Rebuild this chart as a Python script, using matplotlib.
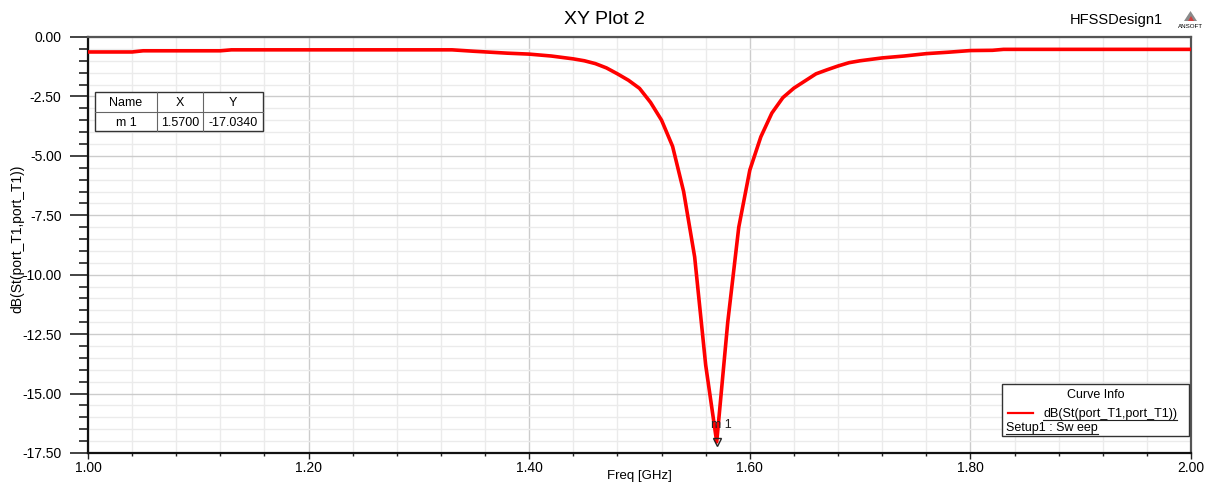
import numpy as np
import matplotlib
matplotlib.use('Agg')
import matplotlib.pyplot as plt
from matplotlib.ticker import MultipleLocator, FormatStrFormatter
from matplotlib.lines import Line2D
from matplotlib.patches import Rectangle, Polygon

plt.rcParams['font.family'] = ['Liberation Sans', 'DejaVu Sans']

# sweep data (Freq in GHz, S11 in dB)
freq = [1.00, 1.04, 1.05, 1.12, 1.13, 1.33, 1.35, 1.38, 1.40, 1.42, 1.44, 1.45,
        1.46, 1.47, 1.48, 1.49, 1.50, 1.51, 1.52, 1.53, 1.54, 1.55, 1.56, 1.57,
        1.58, 1.59, 1.60, 1.61, 1.62, 1.63, 1.64, 1.65, 1.66, 1.67, 1.68, 1.69,
        1.70, 1.72, 1.74, 1.76, 1.78, 1.80, 1.82, 1.83, 2.00]
s11_db = [-0.63, -0.63, -0.58, -0.58, -0.54, -0.54, -0.60, -0.68, -0.72, -0.80,
          -0.92, -1.00, -1.12, -1.30, -1.55, -1.82, -2.16, -2.75, -3.50, -4.60,
          -6.50, -9.25, -13.8, -17.034, -12.0, -8.0, -5.6, -4.2, -3.2, -2.55,
          -2.15, -1.85, -1.55, -1.38, -1.22, -1.08, -1.00, -0.88, -0.80, -0.70,
          -0.64, -0.57, -0.56, -0.52, -0.52]
marker_name = 'm 1'
marker_x = 1.57
marker_y = -17.034

W, H = 1208, 484
fig = plt.figure(figsize=(W / 100, H / 100), dpi=100)
ax = fig.add_axes([88 / W, 1 - 453 / H, (1191 - 88) / W, (453 - 37) / H])


def px(x, y):
    return x / W, 1 - y / H


ax.plot(freq, s11_db, color='#ff0000', lw=2.6, solid_joinstyle='round', zorder=3)

ax.set_xlim(1.0, 2.0)
ax.set_ylim(-17.5, 0.0)
ax.xaxis.set_major_locator(MultipleLocator(0.2))
ax.xaxis.set_minor_locator(MultipleLocator(0.04))
ax.yaxis.set_major_locator(MultipleLocator(2.5))
ax.yaxis.set_minor_locator(MultipleLocator(0.5))
ax.xaxis.set_major_formatter(FormatStrFormatter('%.2f'))
ax.yaxis.set_major_formatter(FormatStrFormatter('%.2f'))

ax.grid(which='major', color='#cccccc', lw=1.0, zorder=0)
ax.grid(which='minor', color='#ebebeb', lw=1.0, zorder=0)
ax.set_axisbelow(True)

ax.tick_params(axis='y', which='major', direction='out', length=13, width=1.2,
               labelsize=10, pad=6, color='#222222')
ax.tick_params(axis='y', which='minor', direction='out', length=6.5, width=1.2,
               color='#222222')
ax.tick_params(axis='x', which='major', direction='out', length=4, width=1.0,
               labelsize=10, pad=2, color='#222222')
ax.tick_params(axis='x', which='minor', direction='out', length=2.5, width=1.0,
               color='#222222')

for side in ['left', 'bottom']:
    ax.spines[side].set_color('#111111')
    ax.spines[side].set_linewidth(1.6)
for side in ['top', 'right']:
    ax.spines[side].set_color('#555555')
    ax.spines[side].set_linewidth(1.6)

ax.set_xlabel('Freq [GHz]', fontsize=9.5, va='center')
ax.xaxis.set_label_coords(0.5, (453 - 476) / (453 - 37))
ax.set_ylabel('dB(St(port_T1,port_T1))', fontsize=10)
ax.yaxis.set_label_coords((24 - 88) / (1191 - 88), (453 - 239) / (453 - 37))

# title and design name
fig.text(*px(604, 20), 'XY Plot 2', fontsize=14, ha='center', va='center')
fig.text(*px(1163, 20), 'HFSSDesign1', fontsize=10.5, ha='right', va='center')
# small ANSOFT logo
tri = Polygon([px(1184, 21), px(1197, 21), px(1190.5, 11)], closed=True,
              transform=fig.transFigure, facecolor='#8a8a8a', edgecolor='none')
fig.patches.append(tri)
tri2 = Polygon([px(1188, 21), px(1194, 21), px(1191, 16)], closed=True,
               transform=fig.transFigure, facecolor='#d04040', edgecolor='none')
fig.patches.append(tri2)
fig.text(*px(1191, 26), 'ANSOFT', fontsize=4.5, ha='center', va='center')

# marker m1
ax.plot([marker_x], [marker_y], marker='v', ms=6, mfc='none', mec='#222222',
        mew=1.0, linestyle='none', zorder=4)
ax.annotate(marker_name, xy=(marker_x, marker_y), xytext=(-4, 8),
            textcoords='offset points', fontsize=9, ha='left', va='bottom',
            color='#222222', zorder=5)

# marker table
tx0, tx1, tx2, tx3 = 95, 157, 203, 263
ty0, ty1, ty2 = 92, 112, 131
fig.patches.append(Rectangle(px(tx0, ty2), (tx3 - tx0) / W, (ty2 - ty0) / H,
                             transform=fig.transFigure, facecolor='white',
                             edgecolor='#333333', lw=1.0, zorder=10))
for xx in (tx1, tx2):
    fig.lines.append(Line2D([xx / W, xx / W], [1 - ty0 / H, 1 - ty2 / H],
                            transform=fig.transFigure, color='#666666', lw=0.8,
                            zorder=11))
fig.lines.append(Line2D([tx0 / W, tx3 / W], [1 - ty1 / H, 1 - ty1 / H],
                        transform=fig.transFigure, color='#666666', lw=0.8,
                        zorder=11))
hdr = ['Name', 'X', 'Y']
row = [marker_name, f'{marker_x:.4f}', f'{marker_y:.4f}']
cols = [(tx0 + tx1) / 2, (tx1 + tx2) / 2, (tx2 + tx3) / 2]
for c, h, r in zip(cols, hdr, row):
    fig.text(*px(c, (ty0 + ty1) / 2 + 1), h, fontsize=9, ha='center',
             va='center', zorder=12)
    fig.text(*px(c, (ty1 + ty2) / 2 + 1), r, fontsize=9, ha='center',
             va='center', zorder=12)

# curve info box
bx0, bx1, by0, by1 = 1002, 1189, 384, 436
fig.patches.append(Rectangle(px(bx0, by1), (bx1 - bx0) / W, (by1 - by0) / H,
                             transform=fig.transFigure, facecolor='white',
                             edgecolor='#333333', lw=1.0, zorder=10))
fig.text(*px((bx0 + bx1) / 2, 395), 'Curve Info', fontsize=9, ha='center',
         va='center', zorder=12)
fig.lines.append(Line2D([1008 / W, 1033 / W], [1 - 413 / H, 1 - 413 / H],
                        transform=fig.transFigure, color='#ff0000', lw=1.6,
                        zorder=12))
t1 = fig.text(*px(1043, 414), 'dB(St(port_T1,port_T1))', fontsize=9,
              ha='left', va='center', zorder=12)
t2 = fig.text(*px(1006, 428), 'Setup1 : Sw eep', fontsize=9, ha='left',
              va='center', zorder=12)

# underline legend texts
fig.canvas.draw()
r = fig.canvas.get_renderer()
for t in (t1, t2):
    bb = t.get_window_extent(r)
    yl = bb.y0 + 0.5
    fig.lines.append(Line2D([bb.x0 / W, bb.x1 / W], [yl / H, yl / H],
                            transform=fig.transFigure, color='#222222',
                            lw=0.8, zorder=12))

fig.savefig('out.png', dpi=100)
